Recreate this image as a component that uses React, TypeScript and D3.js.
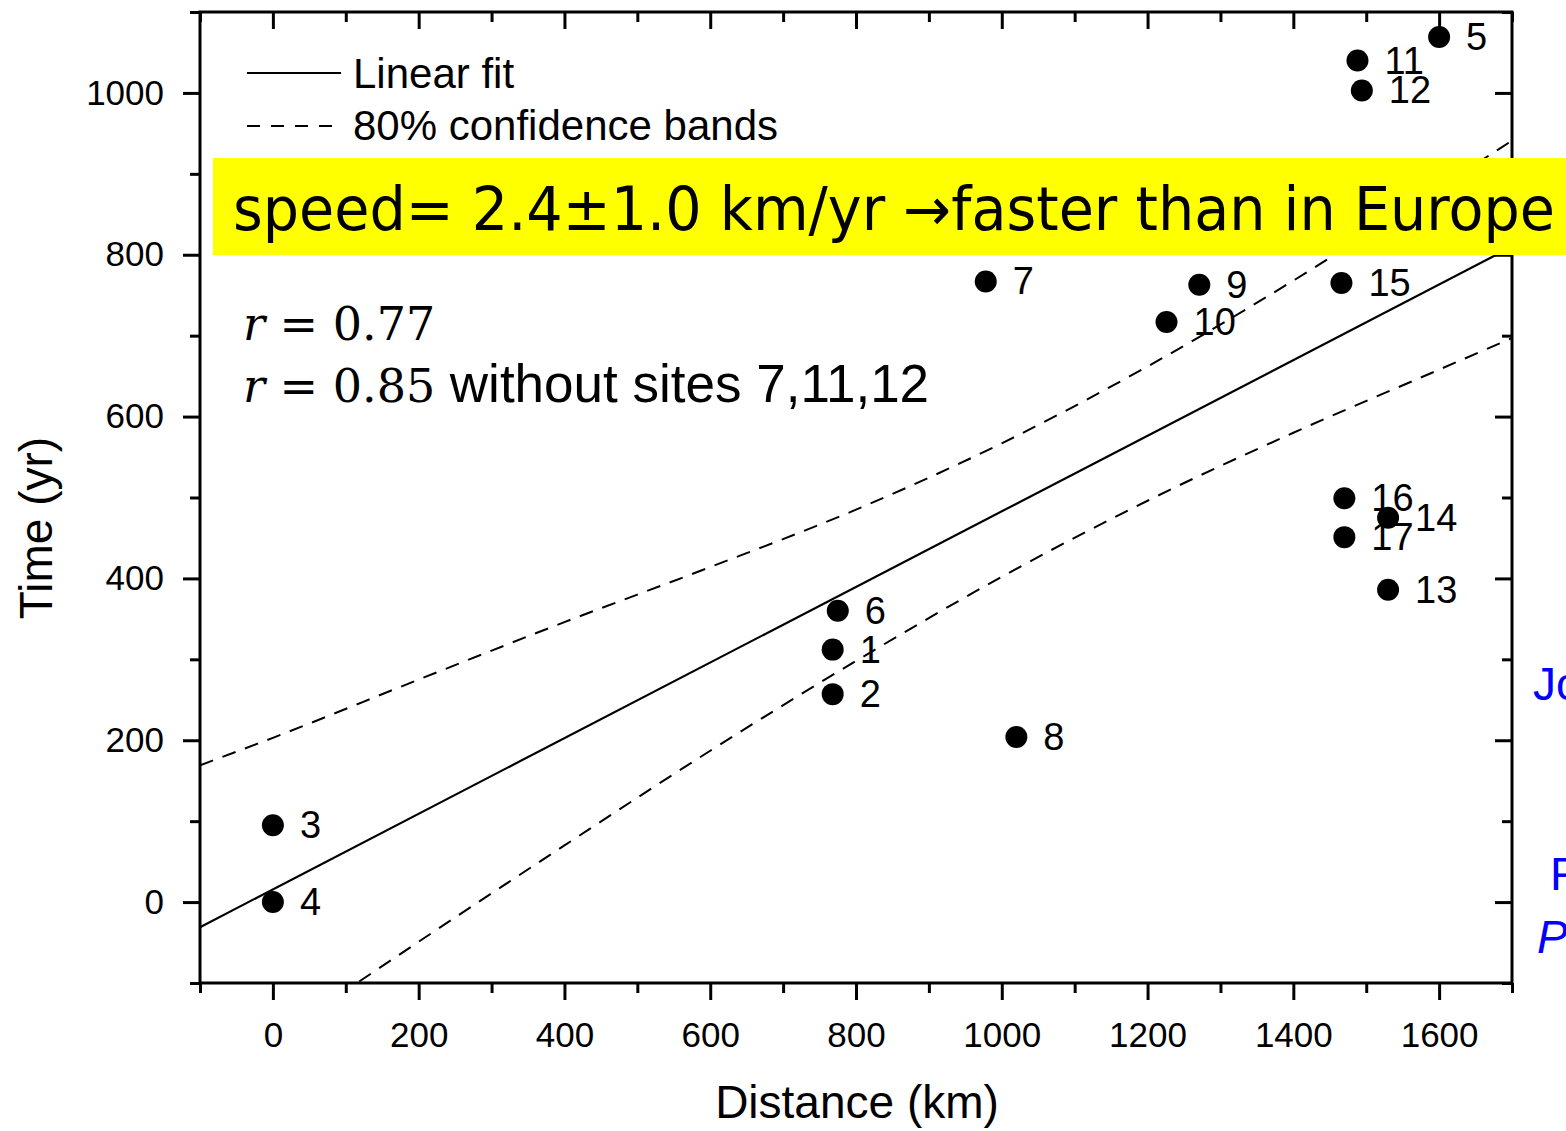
import { useEffect, useRef } from 'react';
import * as d3 from 'd3';

// site data
const siteIds = ['1', '2', '3', '4', '5', '6', '7', '8', '9', '10', '11', '12', '13', '14', '15', '16', '17'];
const distanceKm = [768, 768, 0, 0, 1600, 775, 978, 1020, 1271, 1226, 1488, 1494, 1530, 1530, 1466, 1470, 1470];
const timeYr = [312, 257, 95, 0, 1069, 360, 767, 204, 763, 717, 1040, 1003, 386, 475, 765, 499, 451];

// linear fit end points
const fitX = [-100, 1700];
const fitY = [-31, 810];

// 80% confidence bands
const bandX = [-100, 0, 200, 400, 600, 800, 1000, 1200, 1400, 1600, 1700];
const bandUpper = [169, 203, 275, 346, 414, 485, 567, 662, 768, 883, 941];
const bandLower = [-231, -170, -49, 70, 187, 298, 402, 496, 580, 658, 697];

const xMajor = [0, 200, 400, 600, 800, 1000, 1200, 1400, 1600];
const xMinor = [-100, 100, 300, 500, 700, 900, 1100, 1300, 1500, 1700];
const yMajor = [0, 200, 400, 600, 800, 1000];
const yMinor = [-100, 100, 300, 500, 700, 900, 1100];

const W = 1566;
const H = 1131;

export default function App() {
  const svgRef = useRef<SVGSVGElement>(null);

  useEffect(() => {
    if (!svgRef.current) return;
    const svg = d3.select(svgRef.current);
    svg.selectAll('*').remove();

    const x = d3.scaleLinear().domain([-100, 1700]).range([200, 1512]);
    const y = d3.scaleLinear().domain([-100, 1100]).range([983, 12]);
    const font = "'Liberation Sans', Arial, sans-serif";

    svg.append('defs').append('clipPath').attr('id', 'plot-clip')
      .append('rect')
      .attr('x', x(-100)).attr('y', y(1100))
      .attr('width', x(1700) - x(-100)).attr('height', y(-100) - y(1100));

    const styleAxis = (g: d3.Selection<SVGGElement, unknown, null, undefined>) => {
      g.select('.domain').remove();
      g.selectAll('line').attr('stroke', '#000').attr('stroke-width', 3);
      g.selectAll('text').attr('fill', '#000').style('font-family', font).style('font-size', '35px');
    };

    // bottom axis (outward ticks)
    const gb = svg.append('g').attr('transform', `translate(0,${y(-100)})`);
    gb.append('g').call(d3.axisBottom(x).tickValues(xMajor).tickSize(17).tickPadding(22).tickFormat(d3.format('d'))).call(styleAxis);
    gb.append('g').call(d3.axisBottom(x).tickValues(xMinor).tickSize(10).tickFormat(() => '')).call(styleAxis);

    // top axis (inward ticks)
    const gt = svg.append('g').attr('transform', `translate(0,${y(1100)})`);
    gt.append('g').call(d3.axisBottom(x).tickValues(xMajor).tickSize(17).tickFormat(() => '')).call(styleAxis);
    gt.append('g').call(d3.axisBottom(x).tickValues(xMinor).tickSize(10).tickFormat(() => '')).call(styleAxis);

    // left axis (outward ticks)
    const gl = svg.append('g').attr('transform', `translate(${x(-100)},0)`);
    gl.append('g').call(d3.axisLeft(y).tickValues(yMajor).tickSize(17).tickPadding(19).tickFormat(d3.format('d'))).call(styleAxis);
    gl.append('g').call(d3.axisLeft(y).tickValues(yMinor).tickSize(10).tickFormat(() => '')).call(styleAxis);

    // right axis (inward ticks)
    const gr = svg.append('g').attr('transform', `translate(${x(1700)},0)`);
    gr.append('g').call(d3.axisLeft(y).tickValues(yMajor).tickSize(17).tickFormat(() => '')).call(styleAxis);
    gr.append('g').call(d3.axisLeft(y).tickValues(yMinor).tickSize(10).tickFormat(() => '')).call(styleAxis);

    // frame
    svg.append('rect')
      .attr('x', x(-100)).attr('y', y(1100))
      .attr('width', x(1700) - x(-100)).attr('height', y(-100) - y(1100))
      .attr('fill', 'none').attr('stroke', '#000').attr('stroke-width', 3);

    const plot = svg.append('g').attr('clip-path', 'url(#plot-clip)');

    // fit line
    const fitLine = d3.line<number>().x((d) => x(d)).y((_, i) => y(fitY[i]));
    plot.append('path').attr('d', fitLine(fitX)).attr('fill', 'none').attr('stroke', '#000').attr('stroke-width', 2.2);

    // confidence bands
    const band = (vals: number[]) => d3.line<number>().x((d) => x(d)).y((_, i) => y(vals[i])).curve(d3.curveMonotoneX)(bandX);
    [bandUpper, bandLower].forEach((vals) => {
      plot.append('path').attr('d', band(vals)).attr('fill', 'none').attr('stroke', '#000')
        .attr('stroke-width', 2).attr('stroke-dasharray', '14 10');
    });

    // points and labels
    siteIds.forEach((id, i) => {
      const cx = x(distanceKm[i]);
      const cy = y(timeYr[i]);
      svg.append('circle').attr('cx', cx).attr('cy', cy).attr('r', 11).attr('fill', '#000');
      svg.append('text').attr('x', cx + 27).attr('y', cy + 13)
        .style('font-family', font).style('font-size', '38px').attr('fill', '#000').text(id);
    });

    // legend
    svg.append('line').attr('x1', 247).attr('x2', 341).attr('y1', 73).attr('y2', 73).attr('stroke', '#000').attr('stroke-width', 2);
    svg.append('line').attr('x1', 247).attr('x2', 333).attr('y1', 126).attr('y2', 126).attr('stroke', '#000')
      .attr('stroke-width', 2).attr('stroke-dasharray', '13 11');
    svg.append('text').attr('x', 353).attr('y', 88).style('font-family', font).style('font-size', '42px').text('Linear fit');
    svg.append('text').attr('x', 353).attr('y', 140).style('font-family', font).style('font-size', '42px').text('80% confidence bands');

    // correlation notes
    const serif = "'DejaVu Serif', 'Liberation Serif', serif";
    const r1 = svg.append('text').attr('x', 243).attr('y', 340).style('font-size', '46px');
    r1.append('tspan').style('font-family', serif).style('font-style', 'italic').text('r');
    r1.append('tspan').style('font-family', serif).text(' = 0.77');
    const r2 = svg.append('text').attr('x', 243).attr('y', 402).style('font-size', '46px');
    r2.append('tspan').style('font-family', serif).style('font-style', 'italic').text('r');
    r2.append('tspan').style('font-family', serif).text(' = 0.85 ');
    r2.append('tspan').style('font-family', font).style('font-size', '53px').text('without sites 7,11,12');

    // highlighted statement
    svg.append('rect').attr('x', 213).attr('y', 158).attr('width', W - 213).attr('height', 97).attr('fill', '#ffff00');
    svg.append('text').attr('x', 233).attr('y', 230)
      .style('font-family', "'DejaVu Sans', Verdana, sans-serif").style('font-size', '60px')
      .attr('textLength', 1322).attr('lengthAdjust', 'spacingAndGlyphs')
      .text('speed= 2.4±1.0 km/yr →faster than in Europe');

    // axis titles
    svg.append('text').attr('x', 857).attr('y', 1118).attr('text-anchor', 'middle')
      .style('font-family', font).style('font-size', '46px').text('Distance (km)');
    svg.append('text').attr('transform', 'translate(52,528) rotate(-90)').attr('text-anchor', 'middle')
      .style('font-family', font).style('font-size', '46px').text('Time (yr)');

    // slide text cut off at the right edge
    const blue = '#0000ff';
    svg.append('text').attr('x', 1533).attr('y', 700).style('font-family', font).style('font-size', '46px').attr('fill', blue).text('Jo');
    svg.append('text').attr('x', 1550).attr('y', 890).style('font-family', font).style('font-size', '46px').attr('fill', blue).text('F');
    svg.append('text').attr('x', 1537).attr('y', 953).style('font-family', font).style('font-size', '46px')
      .style('font-style', 'italic').attr('fill', blue).text('P');
  }, []);

  return (
    <div style={{ position: 'absolute', left: 0, top: 0, width: W, height: H, background: '#fff', overflow: 'hidden' }}>
      <svg ref={svgRef} width={W} height={H} />
    </div>
  );
}
